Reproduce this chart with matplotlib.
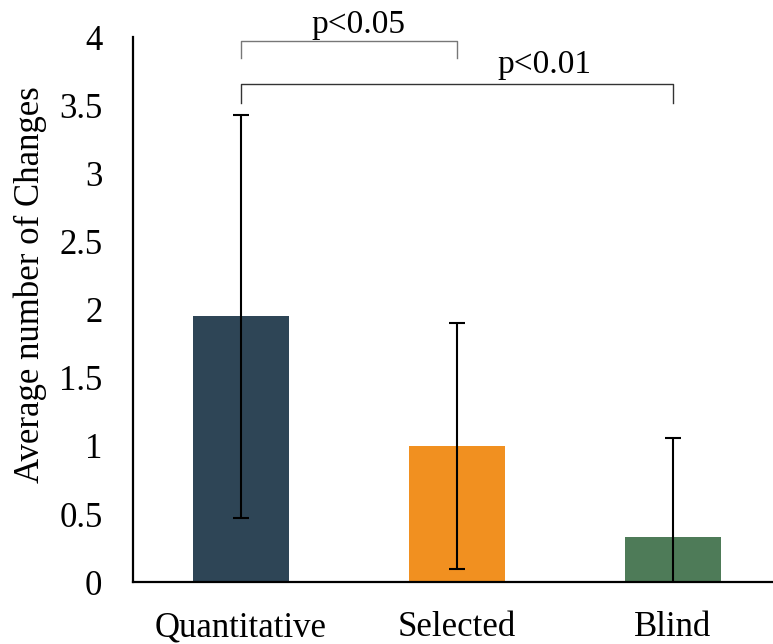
import matplotlib.pyplot as plt

categories = ["Quantitative", "Selected", "Blind"]
means = [1.95, 1.00, 0.33]
errors = [1.48, 0.90, 0.73]
bar_colors = ["#2E4556", "#F19020", "#4E7B58"]
y_ticks = [0, 0.5, 1, 1.5, 2, 2.5, 3, 3.5, 4]
y_tick_labels = ["0", "0.5", "1", "1.5", "2", "2.5", "3", "3.5", "4"]

plt.rcParams["font.family"] = ["Liberation Serif", "DejaVu Serif"]

W, H = 773, 644
fig = plt.figure(figsize=(W / 100, H / 100), dpi=100)
ax = fig.add_axes([133 / W, (H - 582.3) / H, (773 - 133) / W, (582.3 - 37) / H])

x = list(range(len(categories)))
ax.bar(x, means, width=0.444, color=bar_colors, zorder=2)
ax.errorbar(x, means, yerr=errors, fmt="none", ecolor="black",
            elinewidth=1.5, capsize=5.8, capthick=1.5, zorder=3)

ax.set_xlim(-0.5, 2.463)
ax.set_ylim(0, 4)
ax.set_yticks(y_ticks)
ax.set_yticklabels(y_tick_labels)
ax.set_xticks(x)
ax.set_xticklabels(categories)
ax.tick_params(axis="both", length=0, labelsize=25)
ax.tick_params(axis="y", pad=22)
ax.tick_params(axis="x", pad=21)

fig.text(30 / W, 1 - 285 / H, "Average number of Changes", rotation=90,
         ha="center", va="center", fontsize=25)

for side in ("top", "right"):
    ax.spines[side].set_visible(False)
for side in ("left", "bottom"):
    ax.spines[side].set_linewidth(1.6)

# significance brackets
def bracket(x0, x1, y_top, y_leg, label, tx, ty, color):
    ax.plot([x0, x0, x1, x1], [y_leg, y_top, y_top, y_leg], color=color,
            lw=1.0, clip_on=False, zorder=4)
    ax.text(tx, ty, label, ha="center", va="baseline",
            fontsize=24, clip_on=False)

bracket(0, 1, 3.97, 3.846, "p<0.05", 0.544, 4.03, "#777777")
bracket(0, 2, 3.653, 3.516, "p<0.01", 1.405, 3.736, "#333333")

fig.savefig("out.png", dpi=100)
